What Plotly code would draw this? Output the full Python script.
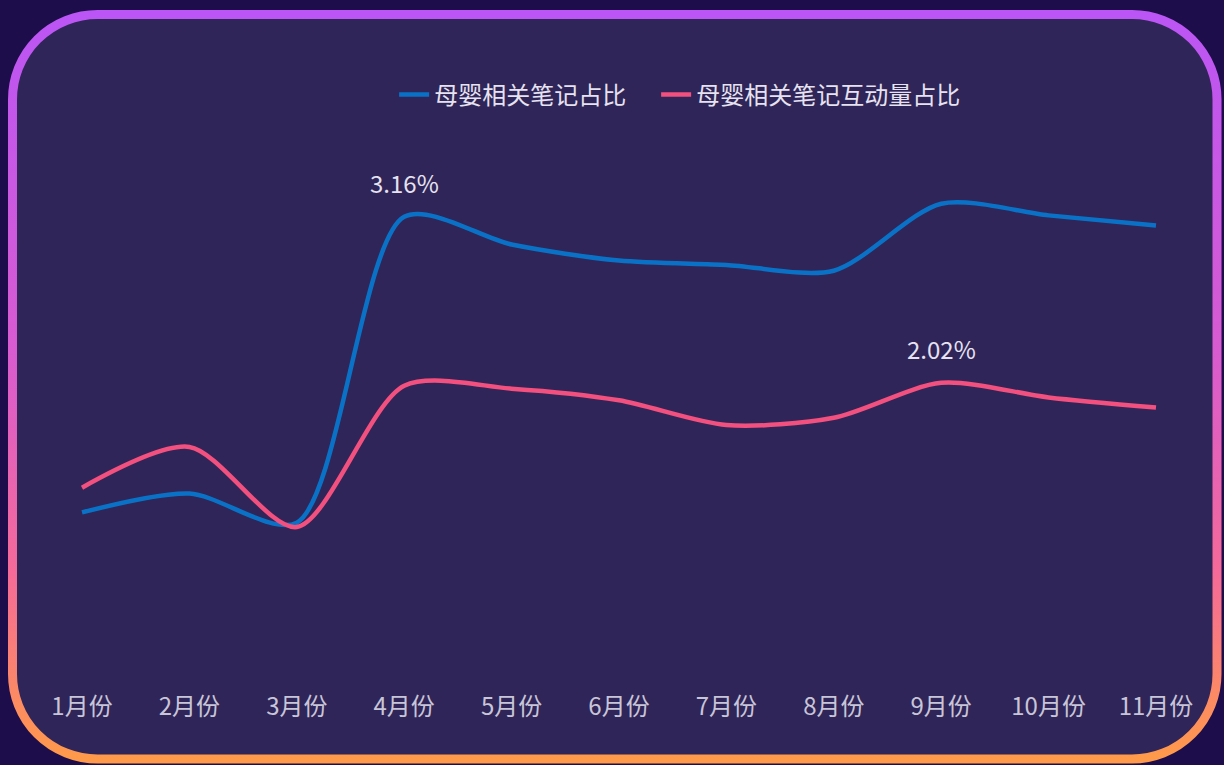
import base64
import plotly.graph_objects as go

months = ["1月份", "2月份", "3月份", "4月份", "5月份", "6月份", "7月份", "8月份", "9月份", "10月份", "11月份"]
note_share = [1.13, 1.26, 1.06, 3.16, 2.97, 2.86, 2.83, 2.79, 3.25, 3.17, 3.10]
interact_share = [1.30, 1.58, 1.03, 2.00, 1.98, 1.90, 1.73, 1.78, 2.02, 1.92, 1.85]
series_names = ["母婴相关笔记占比", "母婴相关笔记互动量占比"]
labels = [(3, 3.16, "3.16%"), (8, 2.02, "2.02%")]

W, H = 1224, 765
MB = 75
plot_h = H - MB

svg = f'''<svg xmlns="http://www.w3.org/2000/svg" width="{W}" height="{H}" viewBox="0 0 {W} {H}">
<defs><linearGradient id="g" x1="0" y1="0" x2="0" y2="1">
<stop offset="0" stop-color="#bb55f5"/>
<stop offset="0.45" stop-color="#d85bd0"/>
<stop offset="0.75" stop-color="#f56a98"/>
<stop offset="1" stop-color="#ff9a4a"/>
</linearGradient></defs>
<rect x="0" y="0" width="{W}" height="{H}" fill="#1d0e4b"/>
<rect x="12.5" y="14.5" width="1204.5" height="744.5" rx="85" ry="85" fill="#2f2558" stroke="url(#g)" stroke-width="9"/>
</svg>'''
src = "data:image/svg+xml;base64," + base64.b64encode(svg.encode()).decode()

fig = go.Figure()
colors = ["#0a72c6", "#f2507e"]
for name, vals, c in zip(series_names, [note_share, interact_share], colors):
    fig.add_trace(go.Scatter(
        x=list(range(len(months))), y=vals, name=name, mode="lines",
        line=dict(color=c, width=4.5, shape="spline", smoothing=0.8),
        hoverinfo="skip"))
# empty spacer entry so the last legend label is not clipped by fixed entry width
fig.add_trace(go.Scatter(x=[None], y=[None], name=" ", mode="lines",
                         line=dict(color="rgba(0,0,0,0)", width=0), hoverinfo="skip"))

for xi, yv, txt in labels:
    fig.add_annotation(x=xi, y=yv, text=txt, showarrow=False, yshift=34,
                       font=dict(size=24, color="#e6e2f0", family="Noto Sans CJK SC"))

px_per_unit = 0.006867
y_top = 677 * px_per_unit
y_bot = -(plot_h - 677) * px_per_unit
xu = 107.4
x0 = -82 / xu
x1 = 10 + (W - 1156) / xu

fig.update_layout(
    width=W, height=H,
    margin=dict(l=0, r=0, t=0, b=MB),
    paper_bgcolor="#1d0e4b",
    plot_bgcolor="rgba(0,0,0,0)",
    images=[dict(source=src, xref="paper", yref="paper", x=0, y=1,
                 sizex=1, sizey=H / plot_h, xanchor="left", yanchor="top",
                 sizing="stretch", layer="below")],
    xaxis=dict(range=[x0, x1], tickmode="array", tickvals=list(range(len(months))),
               ticktext=months, showgrid=False, zeroline=False, showline=False,
               ticks="", tickfont=dict(size=24, color="#c9c5d9", family="Noto Sans CJK SC"),
               fixedrange=True),
    yaxis=dict(range=[y_bot, y_top], visible=False, fixedrange=True),
    legend=dict(orientation="h", x=0.322, xanchor="left", y=(plot_h - 95) / plot_h, yanchor="middle",
                font=dict(size=24, color="#e6e2f0", family="Noto Sans CJK SC"),
                bgcolor="rgba(0,0,0,0)", itemwidth=30, tracegroupgap=0,
                entrywidth=217, entrywidthmode="pixels", itemclick=False, itemdoubleclick=False),
    showlegend=True,
)

fig.write_html("out.html", config={"displayModeBar": False},
               post_script="document.body.style.margin='0';document.body.style.padding='0';")
